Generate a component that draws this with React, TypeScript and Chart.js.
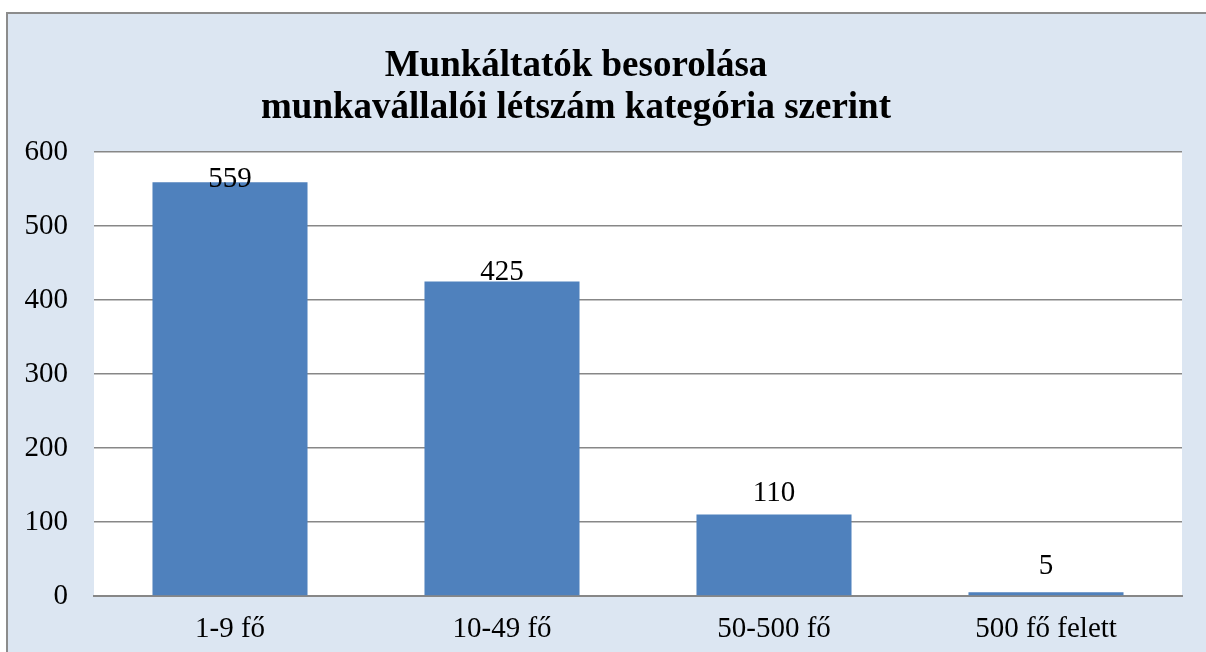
import React, { useEffect, useRef } from "react";
import { Chart, registerables } from "chart.js";

Chart.register(...registerables);

const categories = ["1-9 fő", "10-49 fő", "50-500 fő", "500 fő felett"];
const values = [559, 425, 110, 5];
const titleLines = ["Munkáltatók besorolása", "munkavállalói létszám kategória szerint"];
const yMin = 0;
const yMax = 600;
const yStep = 100;

const SERIF = "'Liberation Serif', 'Times New Roman', serif";

const backgroundPlugin = {
  id: "bgPlugin",
  beforeDraw(chart: any) {
    const { ctx, width, height, chartArea } = chart;
    ctx.save();
    ctx.fillStyle = "#ffffff";
    ctx.fillRect(0, 0, width, height);
    ctx.fillStyle = "#dce6f2";
    ctx.fillRect(7, 13, width, height);
    ctx.strokeStyle = "#8c8c8c";
    ctx.lineWidth = 2;
    ctx.strokeRect(7, 13, width + 20, height + 20);
    ctx.fillStyle = "#ffffff";
    ctx.fillRect(chartArea.left, chartArea.top, chartArea.right - chartArea.left, chartArea.bottom - chartArea.top);
    ctx.restore();
  },
};

const titlePlugin = {
  id: "titlePlugin",
  afterDraw(chart: any) {
    const { ctx } = chart;
    ctx.save();
    ctx.fillStyle = "#000000";
    ctx.font = `bold 37px ${SERIF}`;
    ctx.textAlign = "center";
    ctx.textBaseline = "alphabetic";
    ctx.fillText(titleLines[0], 576, 76);
    ctx.fillText(titleLines[1], 576, 118);
    ctx.restore();
  },
};

const labelPlugin = {
  id: "labelPlugin",
  afterDatasetsDraw(chart: any) {
    const { ctx } = chart;
    const meta = chart.getDatasetMeta(0);
    const yScale = chart.scales.y;
    const zero = yScale.getPixelForValue(0);
    ctx.save();
    ctx.fillStyle = "#000000";
    ctx.font = `29px ${SERIF}`;
    ctx.textAlign = "center";
    ctx.textBaseline = "alphabetic";
    meta.data.forEach((bar: any, i: number) => {
      const h = zero - bar.y;
      const baseline = zero - 18 - h * 0.946;
      ctx.fillText(String(values[i]), bar.x, baseline);
    });
    ctx.restore();
  },
};

export default function App() {
  const ref = useRef<HTMLCanvasElement | null>(null);
  useEffect(() => {
    if (!ref.current) return;
    const chart = new Chart(ref.current, {
      type: "bar",
      data: {
        labels: categories,
        datasets: [
          {
            data: values,
            backgroundColor: "#4f81bd",
            borderWidth: 0,
            barPercentage: 0.57,
            categoryPercentage: 1,
          },
        ],
      },
      options: {
        responsive: false,
        animation: false,
        devicePixelRatio: 1,
        layout: { padding: { top: 152, left: 7, right: 24, bottom: 0 } },
        plugins: {
          legend: { display: false },
          title: { display: false },
          tooltip: { enabled: false },
        },
        scales: {
          x: {
            grid: { display: false },
            border: { display: true, color: "#878787", width: 2 },
            ticks: {
              color: "#000000",
              font: { family: SERIF, size: 29 },
              padding: 8,
              maxRotation: 0,
            },
            afterFit(scale: any) {
              scale.height = 56;
            },
          },
          y: {
            min: yMin,
            max: yMax,
            grid: { color: "#878787", lineWidth: 1.5, drawTicks: false },
            border: { display: false },
            ticks: {
              stepSize: yStep,
              color: "#000000",
              font: { family: SERIF, size: 29 },
              padding: 26,
            },
            afterFit(scale: any) {
              scale.width = 87;
            },
          },
        },
      },
      plugins: [backgroundPlugin, titlePlugin, labelPlugin],
    });
    return () => chart.destroy();
  }, []);
  return (
    <div style={{ position: "fixed", left: 0, top: 0, width: 1206, height: 652 }}>
      <canvas ref={ref} width={1206} height={652} style={{ display: "block" }} />
    </div>
  );
}
